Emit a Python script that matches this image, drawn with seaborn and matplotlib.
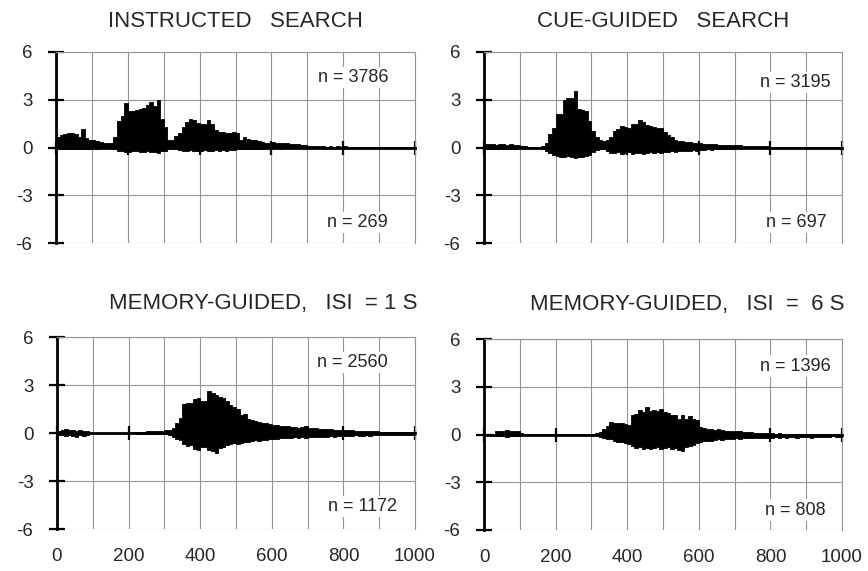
import numpy as np
import pandas as pd
import matplotlib
matplotlib.use("Agg")
import matplotlib.pyplot as plt
import seaborn as sns

# 10 ms bins from 0 to 1000 ms
bin_edges = np.arange(0, 1001, 10)
bin_centers = bin_edges[:-1] + 5

titles = [
    "INSTRUCTED   SEARCH",
    "CUE-GUIDED   SEARCH",
    "MEMORY-GUIDED,   ISI  = 1 S",
    "MEMORY-GUIDED,   ISI  =  6 S",
]
n_up = [3786, 3195, 2560, 1396]
n_down = [269, 697, 1172, 808]

x_ticks = [0, 200, 400, 600, 800, 1000]
y_ticks = [-6, -3, 0, 3, 6]

instructed_pos = [
    0.64, 0.79, 0.85, 0.90, 0.90, 0.83, 0.68, 1.15, 0.57, 0.50,
    0.47, 0.40, 0.36, 0.28, 0.26, 0.26, 0.68, 1.65, 1.97, 2.80,
    2.30, 2.30, 2.35, 2.45, 2.50, 2.70, 2.85, 2.60, 3.00, 1.80,
    1.30, 0.47, 0.47, 0.75, 0.90, 1.30, 1.60, 1.80, 1.70, 1.55,
    1.50, 1.50, 1.70, 1.45, 1.10, 1.00, 1.00, 0.94, 0.90, 0.95,
    0.90, 0.47, 0.64, 0.55, 0.47, 0.45, 0.40, 0.36, 0.30, 0.30,
    0.32, 0.30, 0.26, 0.30, 0.28, 0.19, 0.20, 0.19, 0.13, 0.14,
    0.10, 0.12, 0.09, 0.07, 0.10, 0.06, 0.08, 0.05, 0.07, 0.06,
    0.08, 0.05, 0.04, 0.05, 0.03, 0.03, 0.02, 0.03, 0.02, 0.02,
    0.02, 0.02, 0.01, 0.02, 0.01, 0.01, 0.02, 0.01, 0.01, 0.01,
]
instructed_neg = [
    -0.08, -0.10, -0.10, -0.08, -0.10, -0.12, -0.10, -0.08, -0.10, -0.12,
    -0.06, -0.08, -0.05, -0.04, -0.05, -0.06, -0.10, -0.20, -0.25, -0.28,
    -0.30, -0.25, -0.22, -0.30, -0.28, -0.25, -0.30, -0.28, -0.32, -0.25,
    -0.20, -0.08, -0.06, -0.10, -0.15, -0.20, -0.22, -0.18, -0.25, -0.20,
    -0.22, -0.18, -0.25, -0.20, -0.18, -0.20, -0.15, -0.22, -0.18, -0.15,
    -0.12, -0.10, -0.12, -0.08, -0.10, -0.12, -0.08, -0.10, -0.06, -0.08,
    -0.06, -0.05, -0.08, -0.05, -0.04, -0.03, -0.03, -0.02, -0.03, -0.02,
    -0.02, -0.03, -0.02, -0.02, -0.01, -0.02, -0.01, -0.02, -0.01, -0.01,
    -0.01, -0.02, -0.01, -0.01, -0.01, -0.01, -0.01, -0.01, -0.01, -0.01,
    -0.01, -0.01, -0.01, -0.01, -0.01, -0.01, -0.01, -0.01, -0.01, -0.01,
]

cue_pos = [
    0.22, 0.20, 0.25, 0.18, 0.20, 0.22, 0.17, 0.20, 0.18, 0.15,
    0.10, 0.08, 0.06, 0.05, 0.06, 0.05, 0.08, 0.30, 0.85, 1.25,
    2.10, 2.10, 3.00, 3.10, 3.10, 3.55, 2.45, 2.35, 2.30, 1.65,
    1.04, 0.63, 0.50, 0.38, 0.45, 0.63, 1.04, 1.15, 1.35, 1.30,
    1.25, 1.45, 1.50, 1.75, 1.60, 1.40, 1.35, 1.30, 1.25, 1.20,
    1.00, 0.80, 0.63, 0.50, 0.42, 0.38, 0.35, 0.32, 0.30, 0.28,
    0.27, 0.25, 0.22, 0.20, 0.20, 0.18, 0.17, 0.15, 0.13, 0.13,
    0.14, 0.15, 0.12, 0.10, 0.10, 0.10, 0.11, 0.10, 0.08, 0.08,
    0.06, 0.04, 0.03, 0.03, 0.04, 0.02, 0.03, 0.02, 0.04, 0.02,
    0.02, 0.02, 0.01, 0.03, 0.02, 0.01, 0.02, 0.03, 0.01, 0.02,
]
cue_neg = [
    -0.10, -0.08, -0.10, -0.12, -0.10, -0.08, -0.10, -0.12, -0.08, -0.06,
    -0.04, -0.03, -0.03, -0.02, -0.03, -0.04, -0.10, -0.20, -0.35, -0.45,
    -0.55, -0.60, -0.62, -0.55, -0.62, -0.65, -0.60, -0.62, -0.55, -0.45,
    -0.30, -0.15, -0.10, -0.08, -0.20, -0.32, -0.35, -0.30, -0.38, -0.35,
    -0.30, -0.40, -0.35, -0.32, -0.38, -0.35, -0.30, -0.33, -0.30, -0.35,
    -0.30, -0.30, -0.25, -0.28, -0.22, -0.25, -0.20, -0.22, -0.18, -0.20,
    -0.15, -0.18, -0.12, -0.15, -0.10, -0.12, -0.10, -0.08, -0.10, -0.08,
    -0.06, -0.05, -0.04, -0.05, -0.04, -0.03, -0.04, -0.03, -0.03, -0.04,
    -0.03, -0.02, -0.03, -0.02, -0.02, -0.03, -0.02, -0.02, -0.03, -0.02,
    -0.02, -0.01, -0.02, -0.01, -0.02, -0.01, -0.01, -0.02, -0.01, -0.01,
]

memory1_pos = [
    0.15, 0.20, 0.22, 0.18, 0.20, 0.15, 0.20, 0.12, 0.10, 0.04,
    0.03, 0.03, 0.02, 0.03, 0.02, 0.03, 0.02, 0.02, 0.03, 0.02,
    0.03, 0.05, 0.04, 0.08, 0.06, 0.10, 0.12, 0.10, 0.12, 0.10,
    0.17, 0.20, 0.30, 0.60, 0.94, 1.83, 1.85, 1.90, 2.15, 2.20,
    2.00, 2.00, 2.60, 2.50, 2.40, 2.25, 2.20, 2.00, 1.73, 1.60,
    1.50, 1.15, 1.20, 0.85, 0.80, 0.75, 0.70, 0.65, 0.60, 0.55,
    0.50, 0.48, 0.45, 0.46, 0.42, 0.40, 0.35, 0.32, 0.38, 0.42,
    0.33, 0.32, 0.30, 0.28, 0.27, 0.25, 0.22, 0.20, 0.20, 0.18,
    0.17, 0.18, 0.16, 0.15, 0.14, 0.13, 0.13, 0.12, 0.12, 0.10,
    0.09, 0.08, 0.07, 0.08, 0.06, 0.07, 0.06, 0.05, 0.06, 0.05,
]
memory1_neg = [
    -0.10, -0.15, -0.20, -0.15, -0.18, -0.22, -0.15, -0.20, -0.10, -0.03,
    -0.03, -0.02, -0.03, -0.02, -0.03, -0.02, -0.03, -0.02, -0.03, -0.02,
    -0.03, -0.03, -0.04, -0.05, -0.04, -0.06, -0.05, -0.06, -0.05, -0.06,
    -0.08, -0.10, -0.25, -0.35, -0.46, -0.70, -0.80, -0.78, -1.00, -1.05,
    -0.88, -0.85, -1.05, -1.10, -1.26, -0.95, -0.85, -0.78, -0.70, -0.65,
    -0.67, -0.60, -0.55, -0.57, -0.50, -0.46, -0.48, -0.42, -0.45, -0.38,
    -0.36, -0.38, -0.33, -0.30, -0.32, -0.30, -0.28, -0.30, -0.27, -0.30,
    -0.25, -0.28, -0.25, -0.22, -0.25, -0.22, -0.20, -0.24, -0.20, -0.20,
    -0.18, -0.20, -0.17, -0.15, -0.18, -0.16, -0.15, -0.17, -0.14, -0.15,
    -0.12, -0.14, -0.13, -0.12, -0.15, -0.12, -0.10, -0.12, -0.10, -0.12,
]

memory6_pos = [
    0.04, 0.05, 0.06, 0.20, 0.25, 0.22, 0.28, 0.25, 0.22, 0.20,
    0.12, 0.03, 0.02, 0.03, 0.02, 0.02, 0.03, 0.02, 0.02, 0.03,
    0.02, 0.03, 0.02, 0.02, 0.03, 0.02, 0.04, 0.03, 0.02, 0.03,
    0.02, 0.08, 0.15, 0.35, 0.56, 0.77, 0.75, 0.72, 0.73, 0.65,
    0.60, 1.25, 1.30, 1.55, 1.40, 1.75, 1.50, 1.55, 1.45, 1.60,
    1.40, 1.35, 1.20, 1.25, 1.00, 1.20, 1.00, 1.15, 0.95, 0.90,
    0.45, 0.38, 0.35, 0.35, 0.30, 0.32, 0.27, 0.25, 0.25, 0.20,
    0.20, 0.19, 0.18, 0.15, 0.16, 0.12, 0.10, 0.10, 0.08, 0.08,
    0.07, 0.06, 0.08, 0.05, 0.06, 0.05, 0.04, 0.06, 0.04, 0.05,
    0.03, 0.04, 0.03, 0.05, 0.03, 0.02, 0.04, 0.03, 0.02, 0.03,
]
memory6_neg = [
    -0.03, -0.05, -0.05, -0.10, -0.12, -0.10, -0.15, -0.12, -0.10, -0.08,
    -0.05, -0.02, -0.02, -0.02, -0.02, -0.02, -0.02, -0.02, -0.02, -0.02,
    -0.02, -0.02, -0.02, -0.02, -0.02, -0.02, -0.02, -0.02, -0.02, -0.02,
    -0.02, -0.05, -0.15, -0.25, -0.30, -0.28, -0.40, -0.45, -0.44, -0.55,
    -0.60, -0.75, -0.85, -0.80, -0.90, -0.85, -0.90, -0.85, -0.80, -0.90,
    -0.85, -0.80, -0.90, -0.85, -0.95, -1.05, -0.80, -0.75, -0.65, -0.55,
    -0.45, -0.40, -0.38, -0.40, -0.35, -0.30, -0.32, -0.28, -0.30, -0.27,
    -0.25, -0.28, -0.25, -0.22, -0.25, -0.20, -0.22, -0.20, -0.25, -0.20,
    -0.22, -0.18, -0.20, -0.17, -0.25, -0.18, -0.16, -0.20, -0.15, -0.18,
    -0.15, -0.20, -0.14, -0.16, -0.15, -0.13, -0.15, -0.12, -0.14, -0.15,
]

series = [
    (instructed_pos, instructed_neg),
    (cue_pos, cue_neg),
    (memory1_pos, memory1_neg),
    (memory6_pos, memory6_neg),
]

# layout: axes rectangles in figure pixels (left, top, right, bottom)
W, H = 868, 571
boxes = [(56, 52, 415, 243), (484, 52, 842, 243),
         (57, 337, 415, 529), (484, 339, 842, 530)]
title_pos = [(0.5, 1.162), (0.5, 1.162), (0.576, 1.174), (0.568, 1.183)]
n_up_pos = [(925, 4.4), (969, 4.1), (925, 4.4), (969, 4.3)]
n_down_pos = [(925, -4.7), (958, -4.7), (949, -4.6), (955, -4.75)]

sns.set_theme(style="white")
plt.rcParams["font.family"] = ["Liberation Sans", "DejaVu Sans"]
plt.rcParams["axes.unicode_minus"] = False

fig = plt.figure(figsize=(W / 100, H / 100), dpi=100)

for i, (pos, neg) in enumerate(series):
    l, t, r, b = boxes[i]
    ax = fig.add_axes([l / W, 1 - b / H, (r - l) / W, (b - t) / H])
    for vals in (pos, neg):
        df = pd.DataFrame({"t": bin_centers, "rate": vals})
        sns.histplot(data=df, x="t", weights="rate", binwidth=10,
                     binrange=(0, 1000), element="step", fill=True,
                     color="black", alpha=1, linewidth=0.6, ax=ax,
                     zorder=3)
    ax.set_xlim(0, 1000)
    ax.set_ylim(-6, 6)
    ax.set_xlabel("")
    ax.set_ylabel("")

    # grid: every 100 ms and every 3 units
    ax.set_axisbelow(True)
    ax.set_xticks(x_ticks)
    ax.set_xticks(np.arange(0, 1001, 100), minor=True)
    ax.set_yticks(y_ticks)
    ax.xaxis.grid(True, which="both", color="#959595", linewidth=0.8)
    ax.yaxis.grid(True, which="major", color="#959595", linewidth=0.8)

    for side in ("top", "right"):
        ax.spines[side].set_color("#959595")
        ax.spines[side].set_linewidth(0.8)
    ax.spines["left"].set_color("black")
    ax.spines["left"].set_linewidth(2)
    ax.spines["bottom"].set_position(("data", 0))
    ax.spines["bottom"].set_color("black")
    ax.spines["bottom"].set_linewidth(2)
    ax.spines["bottom"].set_zorder(5)

    ax.tick_params(axis="x", which="major", direction="inout", length=10,
                   width=1.6, color="black", labelbottom=False, bottom=True)
    ax.tick_params(axis="x", which="minor", length=0)
    ax.tick_params(axis="y", direction="inout", length=12, width=1.6,
                   color="black", left=True, labelsize=13.5, pad=11)

    if i >= 2:
        sec = ax.secondary_xaxis(0.0)
        sec.set_xticks(x_ticks)
        sec.tick_params(length=0, pad=14, labelsize=13.5)
        for sp in sec.spines.values():
            sp.set_visible(False)

    ax.text(title_pos[i][0], title_pos[i][1], titles[i], transform=ax.transAxes,
            ha="center", va="center", fontsize=16)
    box = dict(facecolor="white", edgecolor="none", pad=1.5)
    ax.text(n_up_pos[i][0], n_up_pos[i][1], f"n = {n_up[i]}",
            ha="right", va="center", fontsize=13, bbox=box, zorder=4)
    ax.text(n_down_pos[i][0], n_down_pos[i][1], f"n = {n_down[i]}",
            ha="right", va="center", fontsize=13, bbox=box, zorder=4)

fig.savefig("out.png", dpi=100, facecolor="white")
